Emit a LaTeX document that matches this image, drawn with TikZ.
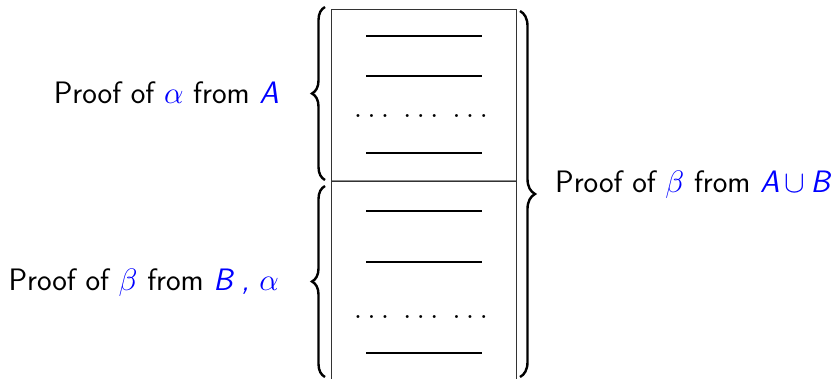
\RequirePackage{fix-cm}
\documentclass[tikz,border=0pt]{standalone}
\usetikzlibrary{decorations.pathreplacing}
\begin{document}
\begin{tikzpicture}[x=1pt,y=-1pt,
  lbl/.style={font=\fontsize{31}{36}\selectfont\sffamily, inner sep=0pt},
  brc/.style={decorate, line width=2.4pt,
    decoration={brace, amplitude=#1}},
  rulebar/.style={line width=1.6pt},
  frame/.style={draw=black!80, line width=0.9pt},
  dotrow/.style={font=\fontsize{31}{36}\selectfont, inner sep=0pt}]
\useasboundingbox (0,0) rectangle (834,378);

% the two stacked proof boxes
\draw[frame] (331.7,9.7) rectangle (516,180.2);
\draw[frame] (331.7,181.6) rectangle (516,384);
\fill[black!45] (331.7,180.4) rectangle (516,181.4);

% lines of the first proof
\coordinate (r1l) at (366,36);  \coordinate (r1r) at (482,36);
\coordinate (r2l) at (366,76);  \coordinate (r2r) at (482,76);
\coordinate (r3l) at (366,153); \coordinate (r3r) at (482,153);
\draw[rulebar] (r1l) -- (r1r);
\draw[rulebar] (r2l) -- (r2r);
\draw[rulebar] (r3l) -- (r3r);
\node[dotrow, anchor=base] (d1) at (421,117) {$\ldots\;\ldots\;\ldots$};

% lines of the second proof
\coordinate (s1l) at (366,211); \coordinate (s1r) at (482,211);
\coordinate (s2l) at (366,262); \coordinate (s2r) at (482,262);
\coordinate (s3l) at (366,353); \coordinate (s3r) at (482,353);
\draw[rulebar] (s1l) -- (s1r);
\draw[rulebar] (s2l) -- (s2r);
\draw[rulebar] (s3l) -- (s3r);
\node[dotrow, anchor=base] (d2) at (421,318) {$\ldots\;\ldots\;\ldots$};

% braces
\coordinate (b1t) at (325,7);   \coordinate (b1b) at (325,180);
\coordinate (b2t) at (325,186); \coordinate (b2b) at (325,377);
\coordinate (b3t) at (520,11);  \coordinate (b3b) at (520,377);
\draw[brc=13pt] (b1b) -- (b1t);
\draw[brc=13pt] (b2b) -- (b2t);
\draw[brc=15pt] (b3t) -- (b3b);

% labels
\node[lbl, anchor=base east] (la) at (279,103)
  {Proof of {\color{blue}$\alpha$} from {\color{blue}\itshape A}};
\node[lbl, anchor=base east] (lb) at (279,290.7)
  {Proof of {\color{blue}$\beta$} from {\color{blue}\itshape B\;, $\alpha$}};
\node[lbl, anchor=base west] (lc) at (555,192.7)
  {Proof of {\color{blue}$\beta$} from {\color{blue}\itshape A\,$\cup$\,B}};
\end{tikzpicture}
\end{document}
